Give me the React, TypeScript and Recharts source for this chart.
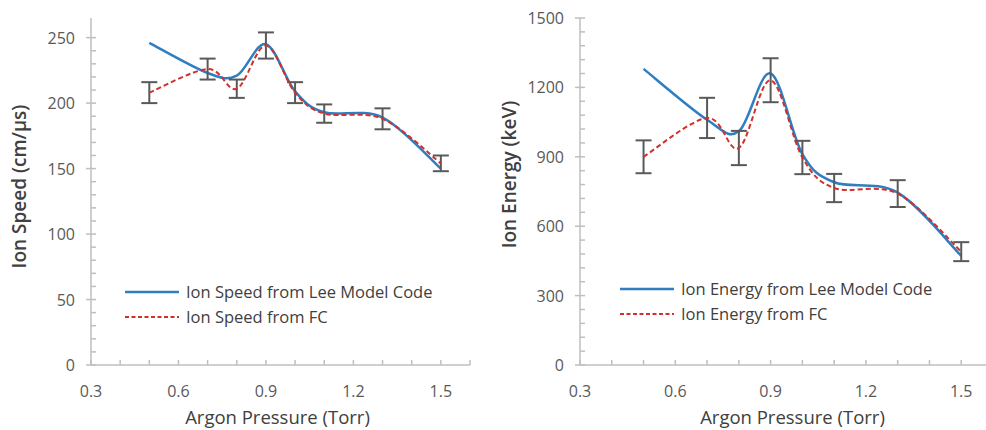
import React from 'react'
import { ErrorBar, Label, Legend, Line, LineChart, XAxis, YAxis } from 'recharts'

// 측정 압력 (Torr)
const pressure = [0.5, 0.7, 0.8, 0.9, 1.0, 1.1, 1.3, 1.5]

// 이온 속도 (cm/µs)
const speedLee = [246, 223, 221, 245, 209, 193, 189, 150]
const speedFC = [208, 226, 211, 244, 208, 192, 188, 154]
const speedErr = [8, 8, 7, 10, 8, 7, 8, 6]

// 이온 에너지 (keV)
const energyLee = [1280, 1060, 1010, 1260, 912, 790, 745, 472]
const energyFC = [900, 1068, 938, 1231, 897, 765, 741, 490]
const energyErr = [71, 87, 74, 95, 72, 61, 58, 41]

// 축 눈금
const xMajor = [0.3, 0.6, 0.9, 1.2, 1.5]
const speedMajor = [0, 50, 100, 150, 200, 250]
const energyMajor = [0, 300, 600, 900, 1200, 1500]

const AXIS = '#bfbfbf'
const TICK_TEXT = '#595959'
const TITLE_TEXT = '#404040'
const BLUE = '#2e7ec1'
const RED = '#d0312d'
const FONT = '"Open Sans", sans-serif'

function steps(from: number, to: number, step: number): number[] {
  const out: number[] = []
  const n = Math.round((to - from) / step)
  for (let i = 0; i <= n; i++) out.push(Math.round((from + i * step) * 1000) / 1000)
  return out
}

const isMajor = (v: number, list: number[]) => list.some((m) => Math.abs(m - v) < 1e-6)

// 엑셀 "부드러운 선" 비슷한 곡선 (Catmull-Rom -> Bezier)
function smoothCurve(context: any) {
  let pts: [number, number][] = []
  return {
    areaStart() {},
    areaEnd() {},
    lineStart() {
      pts = []
    },
    point(x: number, y: number) {
      pts.push([+x, +y])
    },
    lineEnd() {
      if (!pts.length) return
      context.moveTo(pts[0][0], pts[0][1])
      for (let i = 0; i < pts.length - 1; i++) {
        const p0 = pts[i - 1] ?? pts[i]
        const p1 = pts[i]
        const p2 = pts[i + 1]
        const p3 = pts[i + 2] ?? p2
        context.bezierCurveTo(
          p1[0] + (p2[0] - p0[0]) / 6,
          p1[1] + (p2[1] - p0[1]) / 6,
          p2[0] - (p3[0] - p1[0]) / 6,
          p2[1] - (p3[1] - p1[1]) / 6,
          p2[0],
          p2[1],
        )
      }
    },
  }
}

function XTick(props: any) {
  const { x, y, payload } = props
  const major = isMajor(payload.value, xMajor)
  return (
    <g>
      <line x1={x} x2={x} y1={y} y2={y - 5} stroke={AXIS} strokeWidth={1.5} />
      {major && (
        <text x={x} y={y + 26} textAnchor="middle" dominantBaseline="central" fill={TICK_TEXT} fontSize={16} fontFamily={FONT}>
          {payload.value.toFixed(1)}
        </text>
      )}
    </g>
  )
}

function makeYTick(majors: number[]) {
  return function YTick(props: any) {
    const { x, y, payload } = props
    const major = isMajor(payload.value, majors)
    return (
      <g>
        <line x1={major ? x - 5 : x} x2={x + 5} y1={y} y2={y} stroke={AXIS} strokeWidth={1.5} />
        {major && (
          <text x={x - 16} y={y} textAnchor="end" dominantBaseline="central" fill={TICK_TEXT} fontSize={16} fontFamily={FONT}>
            {payload.value}
          </text>
        )}
      </g>
    )
  }
}

function LegendBox({ leeLabel, fcLabel }: { leeLabel: string; fcLabel: string }) {
  const row = (color: string, dash: string | undefined, text: string) => (
    <div style={{ display: 'flex', alignItems: 'center', height: 25 }}>
      <svg width={54} height={6} style={{ marginRight: 7 }}>
        <line x1={0} x2={54} y1={3} y2={3} stroke={color} strokeWidth={dash ? 2 : 2.5} strokeDasharray={dash} />
      </svg>
      <span style={{ color: TITLE_TEXT, fontSize: 16.5, fontFamily: FONT, whiteSpace: 'nowrap' }}>{text}</span>
    </div>
  )
  return (
    <div>
      {row(BLUE, undefined, leeLabel)}
      {row(RED, '4 2.5', fcLabel)}
    </div>
  )
}

interface PanelProps {
  width: number
  axisLeft: number
  marginRight: number
  lee: number[]
  fc: number[]
  err: number[]
  yMax: number
  yMajor: number[]
  yStep: number
  yTitle: string
  yTitleDy: number
  xTitleDx: number
  leeLabel: string
  fcLabel: string
  legendLeft: number
  legendTop: number
}

function Panel(p: PanelProps) {
  const rows = pressure.map((x, i) => ({ p: x, lee: p.lee[i], fc: p.fc[i], err: p.err[i] }))
  const YTick = makeYTick(p.yMajor)
  return (
    <LineChart width={p.width} height={430} data={rows} margin={{ top: 18, right: p.marginRight, left: 0, bottom: 0 }}>
      <XAxis
        type="number"
        dataKey="p"
        domain={[0.3, 1.6]}
        ticks={steps(0.3, 1.6, 0.1)}
        interval={0}
        tickSize={0}
        tickMargin={0}
        tickLine={false}
        height={65}
        axisLine={{ stroke: AXIS, strokeWidth: 1.5 }}
        tick={<XTick />}
      >
        <Label
          content={(lp: any) => {
            const vb = lp.viewBox
            return (
              <text x={vb.x + vb.width / 2 + p.xTitleDx} y={vb.y + 51} textAnchor="middle" dominantBaseline="central" fill={TITLE_TEXT} fontSize={18.5} fontFamily={FONT}>
                Argon Pressure (Torr)
              </text>
            )
          }}
        />
      </XAxis>
      <YAxis
        type="number"
        domain={[0, p.yMax]}
        ticks={steps(0, p.yMajor[p.yMajor.length - 1], p.yStep)}
        interval={0}
        width={p.axisLeft}
        tickSize={0}
        tickMargin={0}
        tickLine={false}
        axisLine={{ stroke: AXIS, strokeWidth: 1.5 }}
        tick={<YTick />}
      >
        <Label
          content={(lp: any) => {
            const vb = lp.viewBox
            const cx = vb.x + 19
            const cy = vb.y + vb.height / 2 + p.yTitleDy
            return (
              <text x={cx} y={cy} transform={`rotate(-90 ${cx} ${cy})`} textAnchor="middle" dominantBaseline="central" fill={TITLE_TEXT} fontSize={19} fontWeight={600} fontFamily={FONT}>
                {p.yTitle}
              </text>
            )
          }}
        />
      </YAxis>
      {/* vertical + middle + center: 범례가 플롯 영역을 줄이지 않게 */}
      <Legend
        layout="vertical"
        verticalAlign="middle"
        align="center"
        content={() => <LegendBox leeLabel={p.leeLabel} fcLabel={p.fcLabel} />}
        wrapperStyle={{ left: p.legendLeft, top: p.legendTop, width: 'auto' }}
      />
      <Line
        type={smoothCurve as any}
        dataKey="lee"
        stroke={BLUE}
        strokeWidth={2.5}
        dot={false}
        activeDot={false}
        isAnimationActive={false}
      />
      <Line
        type={smoothCurve as any}
        dataKey="fc"
        stroke={RED}
        strokeWidth={2}
        strokeDasharray="5 3"
        dot={false}
        activeDot={false}
        isAnimationActive={false}
      >
        <ErrorBar dataKey="err" direction="y" width={8} stroke="#595959" strokeWidth={2} isAnimationActive={false} />
      </Line>
    </LineChart>
  )
}

export default function App() {
  return (
    <div style={{ position: 'absolute', left: 0, top: 0, width: 986, height: 430, overflow: 'hidden', background: '#fff' }}>
      <div style={{ position: 'absolute', left: 0, top: 0 }}>
        <Panel
          width={490}
          axisLeft={91}
          marginRight={20}
          lee={speedLee}
          fc={speedFC}
          err={speedErr}
          yMax={265}
          yMajor={speedMajor}
          yStep={10}
          yTitle="Ion Speed (cm/µs)"
          yTitleDy={-5}
          xTitleDx={-3}
          leeLabel="Ion Speed from Lee Model Code"
          fcLabel="Ion Speed from FC"
          legendLeft={125}
          legendTop={279}
        />
      </div>
      <div style={{ position: 'absolute', left: 490, top: 0 }}>
        <Panel
          width={513}
          axisLeft={90}
          marginRight={10}
          lee={energyLee}
          fc={energyFC}
          err={energyErr}
          yMax={1500}
          yMajor={energyMajor}
          yStep={60}
          yTitle="Ion Energy (keV)"
          yTitleDy={-17}
          xTitleDx={6}
          leeLabel="Ion Energy from Lee Model Code"
          fcLabel="Ion Energy from FC"
          legendLeft={130}
          legendTop={276}
        />
      </div>
    </div>
  )
}
